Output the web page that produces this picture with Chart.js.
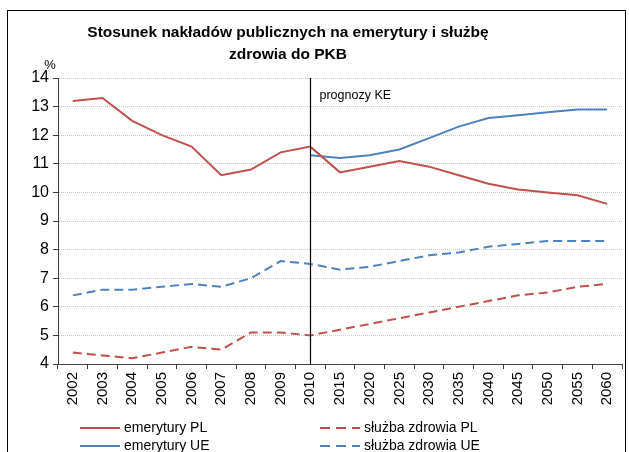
<!DOCTYPE html>
<html>
<head>
<meta charset="utf-8">
<script src="https://cdn.jsdelivr.net/npm/chart.js@4"></script>
<style>
  html, body { margin: 0; padding: 0; background: #fff; }
  #wrap { width: 629px; height: 452px; position: relative; }
</style>
</head>
<body>
<div id="wrap"><canvas id="myChart" width="629" height="452"></canvas></div>
<script>
const years = ['2002', '2003', '2004', '2005', '2006', '2007', '2008', '2009', '2010',
    '2015', '2020', '2025', '2030', '2035', '2040', '2045', '2050', '2055', '2060'];

const pensionsPL = [13.2, 13.3, 12.5, 12.0, 11.6, 10.6, 10.8, 11.4, 11.6,
    10.7, 10.9, 11.1, 10.9, 10.6, 10.3, 10.1, 10.0, 9.9, 9.6];
const pensionsUE = [null, null, null, null, null, null, null, null, 11.3,
    11.2, 11.3, 11.5, 11.9, 12.3, 12.6, 12.7, 12.8, 12.9, 12.9];
const healthPL = [4.4, 4.3, 4.2, 4.4, 4.6, 4.5, 5.1, 5.1, 5.0,
    5.2, 5.4, 5.6, 5.8, 6.0, 6.2, 6.4, 6.5, 6.7, 6.8];
const healthUE = [6.4, 6.6, 6.6, 6.7, 6.8, 6.7, 7.0, 7.6, 7.5,
    7.3, 7.4, 7.6, 7.8, 7.9, 8.1, 8.2, 8.3, 8.3, 8.3];

const seriesNames = ['emerytury PL', 'emerytury UE', 'służba zdrowia PL', 'służba zdrowia UE'];
const titleLines = ['Stosunek nakładów publicznych na emerytury i służbę', 'zdrowia do PKB'];
const forecastLabel = 'prognozy KE';

const RED = '#C0504D';
const BLUE = '#4F81BD';
const FONT = '"Liberation Sans", Arial, sans-serif';
const DASH = [9, 5];

const decorations = {
    id: 'decorations',
    afterDraw(chart) {
        const ctx = chart.ctx;
        const area = chart.chartArea;
        const x = chart.scales.x;
        ctx.save();

        // outer frame
        ctx.strokeStyle = '#000';
        ctx.lineWidth = 1;
        ctx.strokeRect(7.5, 10.5, 618, 460);

        // title
        ctx.fillStyle = '#000';
        ctx.font = 'bold 15.5px ' + FONT;
        ctx.textAlign = 'center';
        ctx.textBaseline = 'middle';
        ctx.fillText(titleLines[0], 288, 33);
        ctx.fillText(titleLines[1], 288, 55);

        // unit
        ctx.font = '13px ' + FONT;
        ctx.fillText('%', 50, 65);

        // forecast divider
        const xf = Math.round(x.getPixelForValue(8)) + 0.5;
        ctx.beginPath();
        ctx.moveTo(xf, area.top);
        ctx.lineTo(xf, area.bottom);
        ctx.lineWidth = 1.2;
        ctx.stroke();
        ctx.textAlign = 'left';
        ctx.font = '12.5px ' + FONT;
        ctx.fillText(forecastLabel, xf + 9, 96);

        // legend
        const items = [
            { text: seriesNames[0], color: RED, dash: [], x: 80, y: 428 },
            { text: seriesNames[1], color: BLUE, dash: [], x: 80, y: 446 },
            { text: seriesNames[2], color: RED, dash: [10, 6], x: 320, y: 428 },
            { text: seriesNames[3], color: BLUE, dash: [10, 6], x: 320, y: 446 }
        ];
        ctx.font = '14px ' + FONT;
        items.forEach(function(it) {
            ctx.beginPath();
            ctx.setLineDash(it.dash);
            ctx.strokeStyle = it.color;
            ctx.lineWidth = 2;
            ctx.moveTo(it.x, it.y);
            ctx.lineTo(it.x + 40, it.y);
            ctx.stroke();
            ctx.setLineDash([]);
            ctx.fillStyle = '#000';
            ctx.fillText(it.text, it.x + 44, it.y);
        });
        ctx.restore();
    }
};

function line(label, data, color, dash) {
    return {
        label: label,
        data: data,
        borderColor: color,
        backgroundColor: color,
        borderWidth: 2,
        borderDash: dash,
        pointRadius: 0,
        tension: 0,
        spanGaps: false
    };
}

const config = {
    type: 'line',
    data: {
        labels: years,
        datasets: [
            line(seriesNames[0], pensionsPL, RED, []),
            line(seriesNames[1], pensionsUE, BLUE, []),
            line(seriesNames[2], healthPL, RED, DASH),
            line(seriesNames[3], healthUE, BLUE, DASH)
        ]
    },
    options: {
        responsive: false,
        animation: false,
        layout: { padding: { left: 20, top: 78, right: 7, bottom: 0 } },
        plugins: {
            legend: { display: false },
            title: { display: false },
            tooltip: { enabled: false }
        },
        scales: {
            x: {
                offset: true,
                grid: {
                    offset: true,
                    drawOnChartArea: false,
                    tickLength: 5,
                    tickColor: '#404040'
                },
                border: { color: '#404040', width: 1 },
                ticks: {
                    minRotation: 90,
                    maxRotation: 90,
                    autoSkip: false,
                    color: '#000',
                    padding: 3,
                    font: { family: FONT, size: 15 }
                },
                afterFit(scale) { scale.height = 88; }
            },
            y: {
                min: 4,
                max: 14,
                ticks: {
                    stepSize: 1,
                    color: '#000',
                    padding: 4,
                    font: { family: FONT, size: 16 }
                },
                grid: {
                    color: '#C8C8C8',
                    tickColor: '#404040',
                    tickLength: 5
                },
                border: { color: '#404040', width: 1, dash: [1, 1] },
                afterFit(scale) { scale.width = 38; }
            }
        }
    },
    plugins: [decorations]
};

new Chart(document.getElementById('myChart'), config);
</script>
</body>
</html>
